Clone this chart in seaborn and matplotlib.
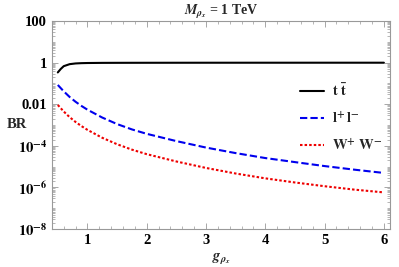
import numpy as np
import pandas as pd
import seaborn as sns
import matplotlib
matplotlib.use('Agg')
import matplotlib.pyplot as plt
from matplotlib.ticker import FixedLocator, FixedFormatter, MultipleLocator, LogLocator, NullFormatter

# g_rho_x values
g_tt = [0.5, 0.55, 0.6, 0.7, 0.8, 0.9, 1.0, 1.25, 1.5, 1.75, 2.0, 2.5, 3.0, 3.5, 4.0, 4.5, 5.0, 5.5, 6.0]
br_tt = [0.34, 0.5, 0.68, 0.85, 0.92, 0.95, 0.965, 0.98, 0.985, 0.988, 0.99, 0.993, 0.995, 0.996, 0.997, 0.997, 0.998, 0.998, 0.998]

g_vv = [0.5, 0.6, 0.7, 0.8, 0.9, 1.0, 1.25, 1.5, 1.75, 2.0, 2.5, 3.0, 3.5, 4.0, 4.5, 5.0, 5.5, 6.0]
br_ll = [8.5e-2, 4.2e-2, 2.24e-2, 1.32e-2, 8.3e-3, 5.5e-3, 2.3e-3, 1.12e-3, 6.2e-4, 3.8e-4,
         1.7e-4, 8.3e-5, 4.5e-5, 2.6e-5, 1.66e-5, 1.07e-5, 7.2e-6, 5.0e-6]
br_ww = [9.3e-3, 4.5e-3, 2.4e-3, 1.41e-3, 8.9e-4, 5.9e-4, 2.45e-4, 1.2e-4, 6.6e-5, 4.0e-5,
         1.78e-5, 8.7e-6, 4.7e-6, 2.75e-6, 1.74e-6, 1.15e-6, 7.9e-7, 5.8e-7]

labels = [r'$\mathbf{t\;\bar{t}}$', r'$\mathbf{l^{+}\,l^{-}}$', r'$\mathbf{W^{+}\;W^{-}}$']
colors = ['black', '#0000ee', '#ee0000']
styles = ['-', (0, (3.5, 1.5)), (0, (1.2, 1.0))]

ytick_vals = [1e2, 1, 1e-2, 1e-4, 1e-6, 1e-8]
ytick_labels = ['100', '1', '0.01', r'$\mathbf{10^{-4}}$', r'$\mathbf{10^{-6}}$', r'$\mathbf{10^{-8}}$']

sns.set_style('ticks')
plt.rcParams['font.family'] = ['Liberation Serif', 'DejaVu Serif']
plt.rcParams['font.weight'] = 'bold'
plt.rcParams['mathtext.fontset'] = 'stix'

fig = plt.figure(figsize=(3.99, 2.67), dpi=100)
ax = fig.add_axes([0.130, 0.142, 0.847, 0.779])

df = pd.concat([
    pd.DataFrame({'g': g_tt, 'BR': br_tt, 'ch': labels[0]}),
    pd.DataFrame({'g': g_vv, 'BR': br_ll, 'ch': labels[1]}),
    pd.DataFrame({'g': g_vv, 'BR': br_ww, 'ch': labels[2]}),
])

for lab, col, ls in zip(labels, colors, styles):
    sub = df[df['ch'] == lab]
    sns.lineplot(x='g', y='BR', data=sub, ax=ax, color=col, lw=1.5, label=lab)
    ax.lines[-1].set_linestyle(ls)

ax.set_yscale('log')
ax.set_xlim(0.4, 6.1)
ax.set_ylim(1e-8, 1e2)

ax.xaxis.set_major_locator(MultipleLocator(1))
ax.xaxis.set_minor_locator(MultipleLocator(0.2))
ax.yaxis.set_major_locator(FixedLocator(ytick_vals))
ax.yaxis.set_major_formatter(FixedFormatter(ytick_labels))
ax.yaxis.set_minor_locator(LogLocator(base=10, subs=np.arange(1, 10), numticks=30))
ax.yaxis.set_minor_formatter(NullFormatter())

ax.tick_params(which='both', direction='in', top=True, right=True, colors='#999999',
               labelcolor='black', labelsize=10.5)
ax.tick_params(which='major', length=4, width=0.6)
ax.tick_params(which='minor', length=2, width=0.5)
for s in ax.spines.values():
    s.set_color('#999999')
    s.set_linewidth(0.8)
for t in ax.get_xticklabels() + ax.get_yticklabels():
    t.set_fontweight('bold')

ax.set_xlabel(r'$g_{\rho_x}$', fontsize=10.5, labelpad=3)
ax.set_ylabel('BR', fontsize=10.5, fontweight='bold', rotation=0)
ax.yaxis.set_label_coords(-0.105, 0.47)
ax.set_title(r'$M_{\rho_x}$ = 1 TeV', fontsize=10, fontweight='bold', pad=4)

leg = ax.legend(loc='upper left', bbox_to_anchor=(0.735, 0.705), frameon=False,
                fontsize=10.5, handlelength=1.6, handletextpad=0.6, labelspacing=0.75,
                borderpad=0, borderaxespad=0)

fig.savefig('out.png', dpi=100)
